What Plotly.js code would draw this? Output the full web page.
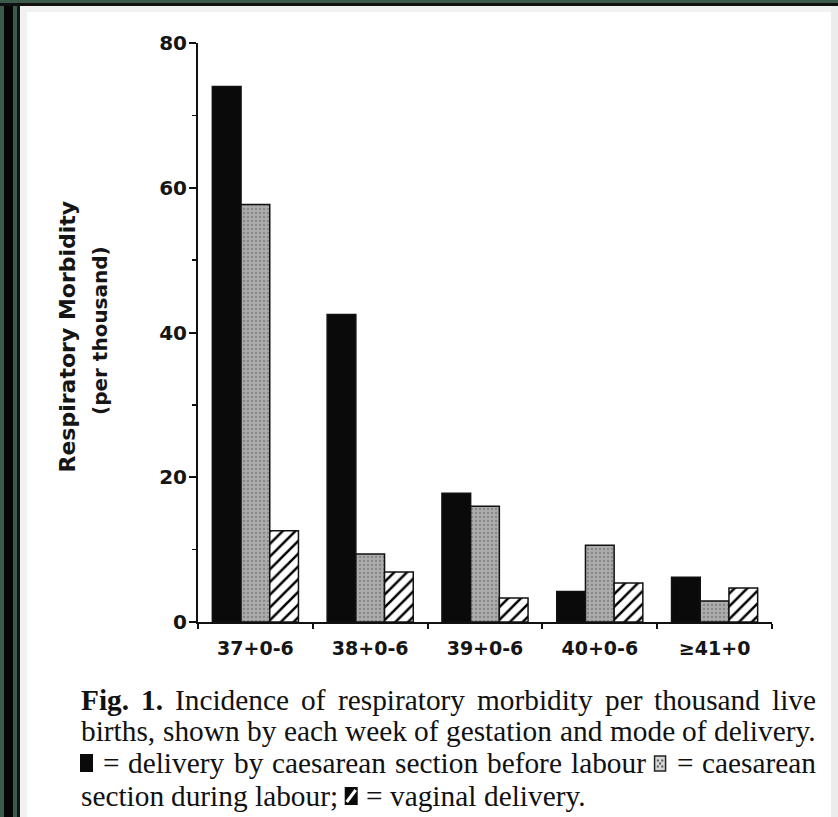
<!DOCTYPE html>
<html>
<head>
<meta charset="utf-8">
<script src="https://cdn.plot.ly/plotly-3.0.1.min.js"></script>
<style>
html,body{margin:0;padding:0;background:#fff;}
#chart{width:838px;height:817px;}
</style>
</head>
<body>
<div id="chart"></div>
<script>
// ---- data ----
const categories = ['37+0-6', '38+0-6', '39+0-6', '40+0-6', '\u226541+0'];
const csBeforeLabour = [74.0, 42.5, 17.8, 4.2, 6.2];
const csDuringLabour = [57.7, 9.4, 16.0, 10.6, 2.9];
const vaginalDelivery = [12.6, 6.9, 3.3, 5.4, 4.7];
const yTickValues = [0, 20, 40, 60, 80];
const seriesNames = ['caesarean section before labour', 'caesarean section during labour', 'vaginal delivery'];

// ---- geometry ----
const W = 838, H = 817;
const ML = 198, MR = 66, MT = 43, MB = 195;
const PW = W - ML - MR, PH = H - MT - MB;
const px = x => (x - ML) / PW;
const py = y => 1 - (y - MT) / PH;

const lineCol = '#111';
const traces = [
  {type: 'bar', name: seriesNames[0], x: categories, y: csBeforeLabour,
   marker: {color: '#0a0a0a', line: {color: lineCol, width: 1.5}}},
  {type: 'bar', name: seriesNames[1], x: categories, y: csDuringLabour,
   marker: {color: '#a4a4a4', line: {color: lineCol, width: 1.5},
            pattern: {shape: '.', fgcolor: '#858585', bgcolor: '#acacac', size: 4, solidity: 0.25}}},
  {type: 'bar', name: seriesNames[2], x: categories, y: vaginalDelivery,
   marker: {color: '#ffffff', line: {color: lineCol, width: 1.5},
            pattern: {shape: '/', fgcolor: '#000', bgcolor: '#fff', size: 9, solidity: 0.28}}}
];

// ---- frame ----
const shapes = [];
function rectPx(x0, y0, x1, y1, fill, lineColor, lw) {
  shapes.push({type: 'rect', xref: 'paper', yref: 'paper', layer: 'above',
    x0: px(x0), x1: px(x1), y0: py(y1), y1: py(y0),
    fillcolor: fill, line: {color: lineColor || fill, width: lw === undefined ? 0 : lw}});
}
// soft inner shadow
rectPx(20, 6, 27, H, '#f1f1f1');
rectPx(20, 6, W, 12, '#f1f1f1');
rectPx(831, 6, W, H, '#ececec');
// left bands
rectPx(0, 0, 4, H, '#3c5a4a');
rectPx(4, 0, 13, H, '#050505');
rectPx(13, 0, 17, H, '#3c5a4a');
rectPx(17, 0, 20, H, '#151515');
// top bands
rectPx(0, 0, W, 3, '#3c5a4a');
rectPx(0, 3, W, 6, '#101010');

// ---- caption (justified by measuring words) ----
const capFont = 'Liberation Serif';
const canvas = document.createElement('canvas');
const ctx = canvas.getContext('2d');
function measure(t, size, bold) {
  ctx.font = (bold ? 'bold ' : '') + size + 'px "' + capFont + '"';
  return ctx.measureText(t).width;
}
const capLeft = 80, capRight = 815;
const line2 = 'births, shown by each week of gestation and mode of delivery.';
let capSize = 100 * (capRight - capLeft - 2) / measure(line2, 100, false);
capSize = Math.min(Math.max(capSize, 18), 30);

const annotations = [];
function word(text, x, yc, bold) {
  annotations.push({xref: 'paper', yref: 'paper', x: px(x), y: py(yc), xanchor: 'left', yanchor: 'middle',
    text: bold ? '<b>' + text + '</b>' : text, showarrow: false, borderpad: 0,
    font: {family: capFont, size: capSize, color: '#111'}});
}
function symbol(kind, x, yc) {
  const w = 13, h = 18;
  const x0 = x, x1 = x + w, y0 = yc - h / 2, y1 = yc + h / 2;
  if (kind === 'black') {
    rectPx(x0, y0, x1, y1, '#0a0a0a');
  } else if (kind === 'dot') {
    rectPx(x0 + 1, y0 + 2, x1 - 1, y1 - 1, '#d8d8d8', '#222', 1.5);
    [[0.3, 0.3], [0.7, 0.3], [0.5, 0.5], [0.3, 0.7], [0.7, 0.7]].forEach(p => {
      const cx = x0 + 1 + p[0] * (w - 2), cy = y0 + 2 + p[1] * (h - 3);
      rectPx(cx - 1, cy - 1, cx + 1, cy + 1, '#555');
    });
  } else {
    rectPx(x0, y0, x1, y1, '#0a0a0a');
    shapes.push({type: 'line', xref: 'paper', yref: 'paper', layer: 'above',
      x0: px(x0 + 2), y0: py(y1 - 3), x1: px(x1 - 2), y1: py(y0 + 3), line: {color: '#fff', width: 3}});
  }
  return w;
}
function justify(items, yc, justified) {
  const widths = items.map(it => it.sym ? 13 : measure(it.t, capSize, it.bold));
  const total = widths.reduce((a, b) => a + b, 0);
  const space = justified ? (capRight - capLeft - total) / (items.length - 1) : measure(' ', capSize, false);
  let x = capLeft;
  items.forEach((it, i) => {
    if (it.sym) symbol(it.sym, x, yc); else word(it.t, x, yc, it.bold);
    x += widths[i] + space;
  });
}
const w = s => s.split(' ').map(t => ({t}));
justify([{t: 'Fig.', bold: true}, {t: '1.', bold: true}].concat(w('Incidence of respiratory morbidity per thousand live')), 700, true);
justify(w(line2), 731, true);
justify([{sym: 'black'}].concat(w('= delivery by caesarean section before labour'), [{sym: 'dot'}], w('= caesarean')), 763, true);
justify(w('section during labour;').concat([{sym: 'hatch'}], w('= vaginal delivery.')), 796, false);

// ---- y-axis title (two lines) ----
const sansBold = 'DejaVu Sans';
annotations.push({xref: 'paper', yref: 'paper', x: px(52), y: py(337), textangle: -90, showarrow: false,
  text: '<b>Respiratory Morbidity</b>', font: {family: sansBold, size: 22, color: '#151515'}});
annotations.push({xref: 'paper', yref: 'paper', x: px(86), y: py(331), textangle: -90, showarrow: false,
  text: '<b>(per thousand)</b>', font: {family: sansBold, size: 20, color: '#151515'}});

const layout = {
  width: W, height: H,
  margin: {l: ML, r: MR, t: MT, b: MB, pad: 0},
  paper_bgcolor: '#ffffff', plot_bgcolor: '#ffffff',
  showlegend: false,
  barmode: 'group', bargap: 0.25, bargroupgap: 0,
  font: {family: sansBold, color: '#151515'},
  xaxis: {
    type: 'category', range: [-0.5, 4.5], fixedrange: true,
    showline: true, linecolor: '#111', linewidth: 2,
    ticks: 'outside', tickson: 'boundaries', ticklen: 5, tickwidth: 2, tickcolor: '#111',
    tickfont: {family: sansBold, size: 19, color: '#151515', weight: 'bold'},
    ticklabelstandoff: 8, showgrid: false, zeroline: false
  },
  yaxis: {
    range: [0, 80], fixedrange: true,
    tickvals: yTickValues, ticktext: yTickValues.map(String),
    showline: true, linecolor: '#111', linewidth: 2,
    ticks: 'outside', ticklen: 7, tickwidth: 2, tickcolor: '#111',
    minor: {dtick: 10, tick0: 0, ticks: 'outside', ticklen: 4, tickwidth: 1.5, tickcolor: '#111', showgrid: false},
    tickfont: {family: sansBold, size: 20, color: '#151515', weight: 'bold'},
    ticklabelstandoff: -2, showgrid: false, zeroline: false
  },
  shapes: shapes,
  annotations: annotations
};

Plotly.newPlot('chart', traces, layout, {displayModeBar: false, staticPlot: true});
</script>
</body>
</html>
